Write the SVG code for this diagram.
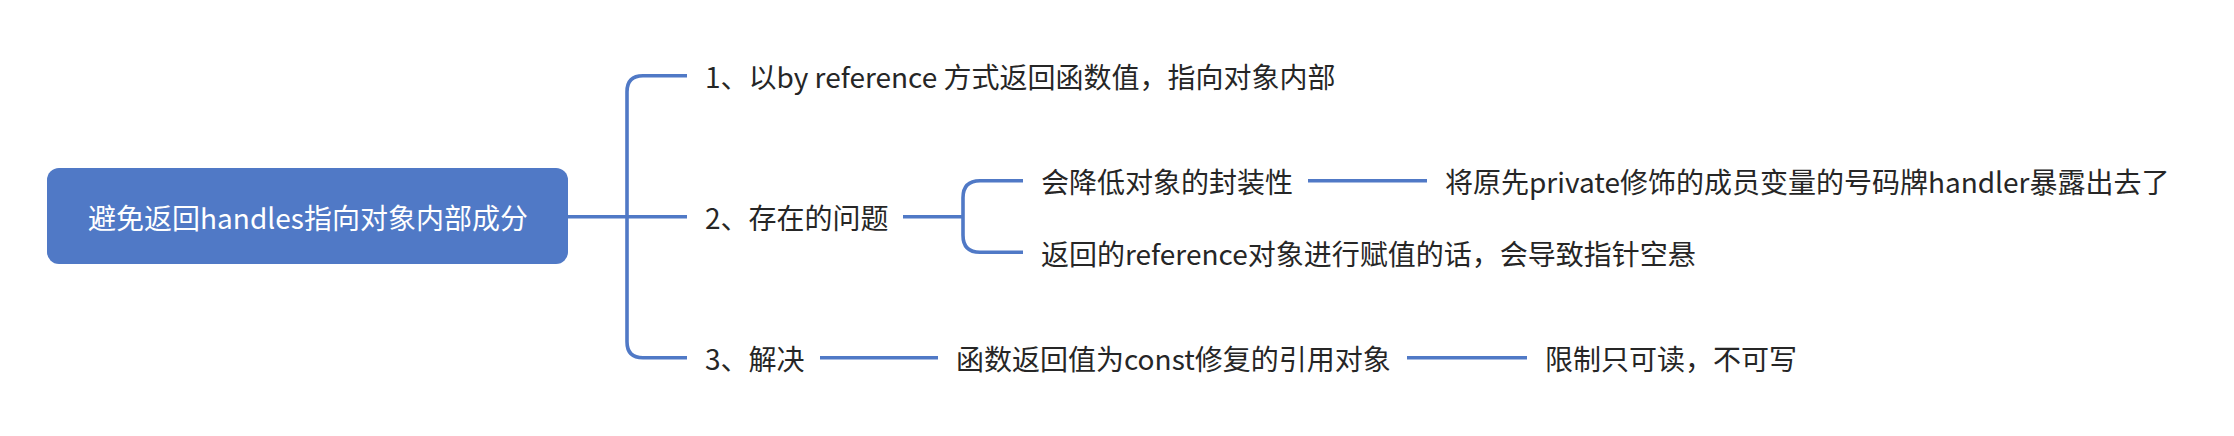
<svg xmlns="http://www.w3.org/2000/svg" width="2234" height="436" viewBox="0 0 2234 436">
<style>
.t{font-family:"Noto Sans CJK SC","Noto Sans",sans-serif;font-size:28px;fill:#262626}
.rt{font-family:"Noto Sans CJK SC","Noto Sans",sans-serif;font-size:28px;fill:#ffffff}
.c{fill:none;stroke:#5079c6;stroke-width:3.6;stroke-linecap:butt}
</style>
<rect width="2234" height="436" fill="#ffffff"/>
<g id="connectors">
<path class="c" d="M568 216.7 H687"/>
<path class="c" d="M687 75.7 H643 Q627 75.7 627 91.7 V341.7 Q627 357.7 643 357.7 H687"/>
<path class="c" d="M903 216.7 H963"/>
<path class="c" d="M1023 180.7 H980 Q963 180.7 963 197.7 V235.3 Q963 252.3 980 252.3 H1023"/>
<path class="c" d="M1308 180.7 H1427"/>
<path class="c" d="M820 357.7 H938"/>
<path class="c" d="M1407 357.7 H1527"/>
</g>
<g id="root">
<rect x="47" y="168" width="521" height="96" rx="12" fill="#5079c6"/>
<text class="rt" x="308" y="229" text-anchor="middle">避免返回handles指向对象内部成分</text>
</g>
<g id="n1"><text class="t" x="705" y="88">1、以by reference 方式返回函数值，指向对象内部</text></g>
<g id="n2"><text class="t" x="705" y="229">2、存在的问题</text></g>
<g id="n2a"><text class="t" x="1041" y="193">会降低对象的封装性</text></g>
<g id="n2a1"><text class="t" x="1445" y="193">将原先private修饰的成员变量的号码牌handler暴露出去了</text></g>
<g id="n2b"><text class="t" x="1041" y="264.5">返回的reference对象进行赋值的话，会导致指针空悬</text></g>
<g id="n3"><text class="t" x="705" y="370">3、解决</text></g>
<g id="n3a"><text class="t" x="956" y="370">函数返回值为const修复的引用对象</text></g>
<g id="n3a1"><text class="t" x="1545" y="370">限制只可读，不可写</text></g>
</svg>
